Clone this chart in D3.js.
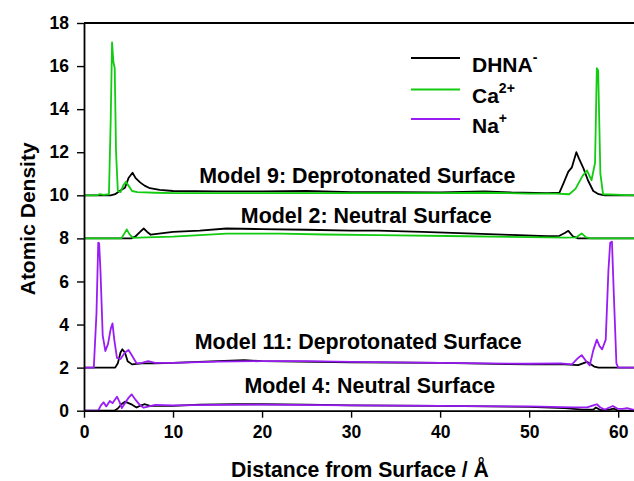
<!DOCTYPE html>
<html>
<head>
<meta charset="utf-8">
<script src="https://cdn.jsdelivr.net/npm/d3@7"></script>
<style>
  body { margin: 0; background: #fff; }
  svg text { font-family: "Liberation Sans", Arial, sans-serif; font-weight: bold; }
</style>
</head>
<body>
<div id="chart"></div>
<script>
// density profiles, [distance (Å), density above the model baseline]
var model9Dhna = [[0,0],[3.0,0],[3.5,0.05],[4.0,0.2],[4.6,0.35],[5.0,0.8],[5.45,1.05],[5.8,0.8],[6.3,0.6],[6.8,0.45],[7.4,0.33],[8.5,0.25],[10,0.2],[15,0.18],[20,0.18],[25,0.2],[30,0.15],[35,0.15],[40,0.13],[45,0.18],[48,0.13],[52,0.1],[53.4,0.12],[53.9,0.6],[54.4,1.1],[54.8,1.3],[55.3,2.0],[55.6,1.7],[56.1,1.25],[56.6,0.7],[57.2,0.2],[57.8,0.05],[58.5,0],[61.8,0]];
var model9Ca = [[0,0],[1.5,0],[1.8,0.06],[2.2,0.02],[2.8,0.05],[3.0,3.5],[3.15,7.1],[3.3,6.2],[3.45,5.9],[3.6,2.0],[3.8,0.2],[4.1,0.15],[4.4,0.45],[4.7,0.63],[5.0,0.45],[5.4,0.2],[6,0.15],[8,0.12],[10,0.1],[20,0.1],[30,0.1],[40,0.1],[45,0.12],[50,0.08],[53,0.08],[54.5,0.05],[55.2,0.3],[56,0.9],[56.5,1.15],[57,0.7],[57.4,1.5],[57.6,5.9],[57.75,5.8],[58.0,1.0],[58.3,0.05],[61.8,0]];
var model2Dhna = [[0,0],[5.3,0],[5.8,0.1],[6.3,0.3],[6.7,0.46],[7.1,0.3],[7.5,0.17],[10,0.3],[13,0.36],[16,0.46],[20,0.43],[25,0.4],[30,0.36],[33,0.36],[38,0.3],[43,0.23],[48,0.16],[52,0.1],[53.4,0.12],[54.0,0.25],[54.4,0.35],[54.9,0.1],[55.5,0],[61.8,0]];
var model2Ca = [[0,0],[4.2,0],[4.5,0.2],[4.8,0.42],[5.1,0.2],[5.5,0.02],[7,0.05],[10,0.08],[13,0.15],[16,0.22],[22,0.22],[27,0.18],[33,0.15],[43,0.1],[50,0.06],[54,0.04],[55.3,0.05],[55.9,0.23],[56.4,0.05],[57,0],[61.8,0]];
var model11Dhna = [[0,0],[3.5,0],[3.8,0.2],[4.1,0.7],[4.3,0.85],[4.6,0.7],[4.9,0.3],[5.4,0.15],[6.5,0.2],[8,0.2],[10,0.22],[15,0.3],[18,0.35],[20,0.3],[30,0.25],[40,0.22],[50,0.15],[54,0.15],[55.5,0.12],[56.5,0.27],[57.3,0.05],[57.8,0],[61.8,0]];
var model11Na = [[0,0],[1.1,0],[1.4,2.5],[1.6,5.8],[1.7,5.77],[1.85,4.5],[2.1,1.5],[2.4,0.77],[2.7,1.1],[3.0,1.8],[3.2,2.05],[3.4,1.3],[3.7,0.45],[4.1,0.4],[4.6,0.7],[5.0,0.82],[5.4,0.55],[5.9,0.2],[6.5,0.22],[7.2,0.3],[8,0.22],[10,0.22],[15,0.28],[20,0.3],[25,0.3],[30,0.27],[40,0.22],[50,0.18],[53.5,0.2],[54.8,0.15],[55.5,0.45],[55.9,0.58],[56.4,0.3],[56.8,0.1],[57.2,0.8],[57.6,1.3],[57.9,1.0],[58.2,0.85],[58.6,1.3],[58.9,4.5],[59.1,5.8],[59.3,5.85],[59.5,3.5],[59.8,0.2],[60,0],[61.8,0]];
var model4Dhna = [[0,0],[3.4,0],[3.8,0.1],[4.2,0.3],[4.6,0.42],[5.0,0.35],[5.4,0.28],[5.9,0.15],[6.4,0.25],[6.85,0.3],[7.4,0.22],[8.5,0.22],[10,0.22],[13,0.28],[17,0.3],[20,0.3],[25,0.28],[30,0.25],[40,0.22],[50,0.18],[54,0.12],[56,0.05],[57.2,0.05],[57.5,0.15],[58,0.03],[59,0.05],[59.5,0.1],[60,0],[61.8,0]];
var model4Na = [[0,0],[1.6,0],[1.9,0.25],[2.2,0.39],[2.5,0.2],[2.9,0.45],[3.2,0.35],[3.7,0.65],[4.0,0.4],[4.25,0.12],[4.6,0.35],[5.0,0.6],[5.35,0.76],[5.8,0.5],[6.3,0.25],[6.7,0.14],[7.3,0.2],[8,0.27],[10,0.25],[15,0.27],[20,0.28],[30,0.25],[40,0.22],[50,0.2],[55,0.15],[56.5,0.15],[57.2,0.25],[57.6,0.3],[58.0,0.15],[58.5,0.05],[59.0,0.15],[59.4,0.22],[59.9,0.1],[60.5,0.08],[61,0.12],[61.8,0.03]];

var modelNames = ["Model 9: Deprotonated Surface", "Model 2: Neutral Surface",
                  "Model 11: Deprotonated Surface", "Model 4: Neutral Surface"];
var modelOffsets = [10, 8, 2, 0];
var species = ["DHNA", "Ca", "Na"];
var speciesCharge = ["-", "2+", "+"];
var speciesColors = ["#000000", "#11cc11", "#9a1cf5"];

var xTicks = [0, 10, 20, 30, 40, 50, 60];
var yTicks = [0, 2, 4, 6, 8, 10, 12, 14, 16, 18];

// which profiles belong to which model, black drawn first
var series = [
    {model: 0, sp: 0, data: model9Dhna}, {model: 0, sp: 1, data: model9Ca},
    {model: 1, sp: 0, data: model2Dhna}, {model: 1, sp: 1, data: model2Ca},
    {model: 2, sp: 0, data: model11Dhna}, {model: 2, sp: 2, data: model11Na},
    {model: 3, sp: 0, data: model4Dhna}, {model: 3, sp: 2, data: model4Na}
];

var width = 634, height = 481;
var svg = d3.select("#chart").append("svg")
        .attr("width", width)
        .attr("height", height);

var x = d3.scaleLinear().domain([0, 62]).range([84, 636]);
var y = d3.scaleLinear().domain([0, 18]).range([410.7, 23]);

var line = d3.line()
        .x(function(d) { return x(d[0]); })
        .y(function(d) { return y(d[1]); });

series.forEach(function(s) {
    var off = modelOffsets[s.model];
    svg.append("path")
            .datum(s.data.map(function(d) { return [d[0], d[1] + off]; }))
            .attr("d", line)
            .attr("fill", "none")
            .attr("stroke", speciesColors[s.sp])
            .attr("stroke-width", 1.8)
            .attr("stroke-linejoin", "round");
});

// axes
var xAxis = svg.append("g")
        .attr("transform", "translate(0," + y(0) + ")")
        .call(d3.axisBottom(x).tickValues(xTicks).tickSize(7).tickPadding(8).tickSizeOuter(0));
var yAxis = svg.append("g")
        .attr("transform", "translate(" + x(0) + ",0)")
        .call(d3.axisLeft(y).tickValues(yTicks).tickSize(7).tickPadding(8).tickSizeOuter(0));
[xAxis, yAxis].forEach(function(g) {
    g.select(".domain").attr("stroke", "#000").attr("stroke-width", 1.8);
    g.selectAll(".tick line").attr("stroke", "#000").attr("stroke-width", 1.4);
    g.selectAll("text").attr("font-size", 17.5).attr("fill", "#000")
            .style("font-family", "'Liberation Sans', Arial, sans-serif").style("font-weight", "bold");
});
// top frame
svg.append("line")
        .attr("x1", x(0)).attr("x2", width)
        .attr("y1", y(18)).attr("y2", y(18))
        .attr("stroke", "#000").attr("stroke-width", 1.8);

// titles
svg.append("text")
        .attr("x", 360).attr("y", 477)
        .attr("text-anchor", "middle")
        .attr("font-size", 21.2)
        .text("Distance from Surface / Å");
svg.append("text")
        .attr("transform", "translate(35," + ((y(0) + y(18)) / 2 + 2) + ") rotate(-90)")
        .attr("text-anchor", "middle")
        .attr("font-size", 21)
        .text("Atomic Density");

// model labels
var labelPos = [[30.7, 10.57], [31.7, 8.71], [30.8, 2.86], [32.1, 0.82]];
modelNames.forEach(function(name, i) {
    svg.append("text")
            .attr("x", x(labelPos[i][0]))
            .attr("y", y(labelPos[i][1]))
            .attr("text-anchor", "middle")
            .attr("font-size", 21.4)
            .text(name);
});

// legend
var legend = svg.append("g").attr("transform", "translate(411,58)");
species.forEach(function(name, i) {
    var row = legend.append("g").attr("transform", "translate(0," + [0, 31.5, 61][i] + ")");
    row.append("line")
            .attr("x1", 0).attr("x2", 49)
            .attr("stroke", speciesColors[i]).attr("stroke-width", 1.8);
    var t = row.append("text").attr("x", 61).attr("y", 13.5).attr("font-size", 21);
    t.append("tspan").text(name);
    t.append("tspan").attr("dy", -10).attr("font-size", 14).text(speciesCharge[i]);
});
</script>
</body>
</html>
